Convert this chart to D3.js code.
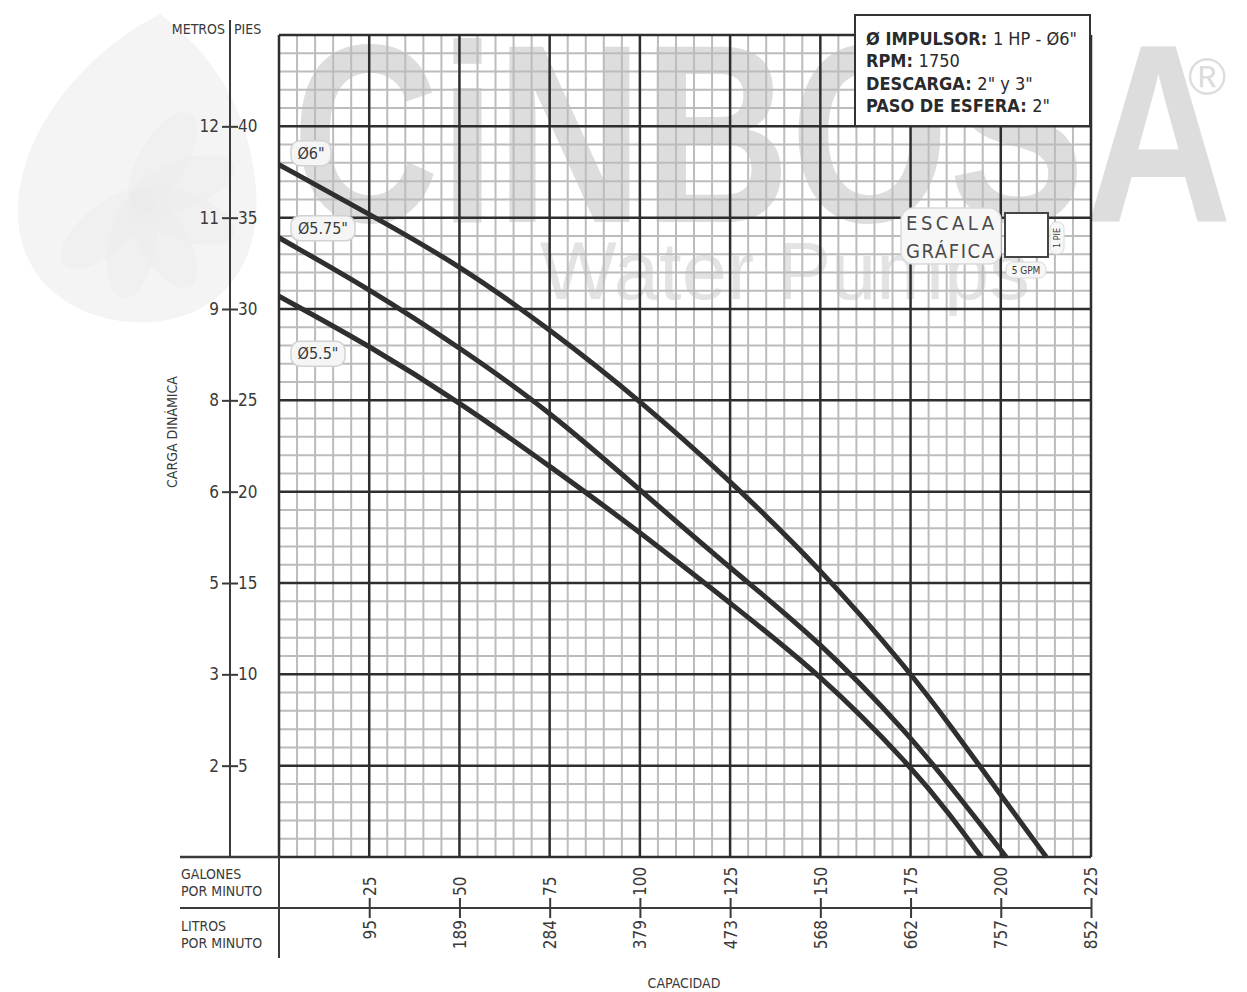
<!DOCTYPE html>
<html>
<head>
<meta charset="utf-8">
<script src="https://cdn.jsdelivr.net/npm/d3@7"></script>
<style>
    body { margin: 0; background: #fff; }
    svg { display: block; }
    .lbl { font-family: "Liberation Sans Narrow", "DejaVu Sans Condensed", "Liberation Sans", sans-serif; fill: #3a3a3a; }
</style>
</head>
<body>
<div id="chart"></div>
<script>
// bottom axis: galones por minuto and litros por minuto
var gpmTicks = [25, 50, 75, 100, 125, 150, 175, 200, 225];
var lpmLabels = ["95", "189", "284", "379", "473", "568", "662", "757", "852"];

// left axis: pies and metros
var feetTicks = [5, 10, 15, 20, 25, 30, 35, 40];
var meterLabels = ["2", "3", "5", "6", "8", "9", "11", "12"];

// impeller curves, flow in GPM and head in feet
var curveNames = ['Ø6"', 'Ø5.75"', 'Ø5.5"'];
var flow6 = [0, 25, 50, 75, 100, 125, 150, 175, 186, 200, 212.6];
var head6 = [37.9, 35.2, 32.4, 28.9, 25.0, 20.6, 15.8, 10.1, 7.2, 3.4, 0];
var flow575 = [0, 25, 50, 75, 100, 125, 150, 175, 186, 201.5];
var head575 = [33.9, 31.1, 27.9, 24.4, 20.1, 15.8, 11.8, 6.6, 3.9, 0];
var flow55 = [0, 25, 50, 75, 100, 125, 150, 175, 186, 194.6];
var head55 = [30.7, 28.0, 24.9, 21.4, 17.8, 13.9, 10.0, 5.0, 2.3, 0];

var infoLines = [
    ["Ø IMPULSOR: ", '1 HP - Ø6"'],
    ["RPM: ", "1750"],
    ["DESCARGA: ", '2" y 3"'],
    ["PASO DE ESFERA: ", '2"']
];

var W = 1247, H = 992;
var plotLeft = 279, plotRight = 1091, plotTop = 35, plotBottom = 857;

var svg = d3.select("#chart").append("svg").attr("width", W).attr("height", H);

var x = d3.scaleLinear().domain([0, 225]).range([plotLeft, plotRight]);
var y = d3.scaleLinear().domain([0, 45]).range([plotBottom, plotTop]);

// ---- watermark (logo, CiNBOSA, Water Pumps) ----
var wm = svg.append("g");
wm.append("path")
    .attr("d", "M160,14 C80,55 18,135 18,212 C18,288 85,326 150,322 C222,318 262,262 256,190 C250,112 215,55 160,14 Z")
    .attr("fill", "#f4f4f4");
[-60, -20, 20, 60, 100, 140].forEach(function (a) {
    wm.append("ellipse")
        .attr("cx", 185).attr("cy", 200).attr("rx", 55).attr("ry", 24)
        .attr("transform", "rotate(" + a + ",140,200)")
        .attr("fill", "#ececec").attr("opacity", 0.45);
});
wm.append("text")
    .attr("x", 292).attr("y", 222)
    .attr("textLength", 940).attr("lengthAdjust", "spacingAndGlyphs")
    .style("font-family", "'Liberation Sans', Arial, sans-serif")
    .style("font-size", "255px").style("font-weight", "bold")
    .attr("fill", "#dddddd")
    .text("CiNBOSA");
wm.append("text")
    .attr("x", 1188).attr("y", 95)
    .style("font-family", "'Liberation Sans', Arial, sans-serif")
    .style("font-size", "52px")
    .attr("fill", "#dddddd")
    .text("®");
wm.append("text")
    .attr("x", 540).attr("y", 299)
    .attr("textLength", 490).attr("lengthAdjust", "spacingAndGlyphs")
    .style("font-family", "'Liberation Sans', Arial, sans-serif")
    .style("font-size", "82px")
    .attr("fill", "#e3e3e3")
    .text("Water Pumps");

// ---- grid ----
var grid = svg.append("g");
var minorX = d3.range(0, 226, 5), minorY = d3.range(0, 46, 1);
grid.selectAll(".mx").data(minorX.filter(function (d) { return d % 25 !== 0; })).enter()
    .append("line")
    .attr("x1", x).attr("x2", x).attr("y1", plotTop).attr("y2", plotBottom)
    .attr("stroke", "#bcbcbc").attr("stroke-width", 2);
grid.selectAll(".my").data(minorY.filter(function (d) { return d % 5 !== 0; })).enter()
    .append("line")
    .attr("y1", y).attr("y2", y).attr("x1", plotLeft).attr("x2", plotRight)
    .attr("stroke", "#bcbcbc").attr("stroke-width", 2);
grid.selectAll(".Mx").data(d3.range(0, 226, 25)).enter()
    .append("line")
    .attr("x1", x).attr("x2", x).attr("y1", plotTop).attr("y2", plotBottom)
    .attr("stroke", "#2e2e2e").attr("stroke-width", 2.5);
grid.selectAll(".My").data(d3.range(0, 46, 5)).enter()
    .append("line")
    .attr("y1", y).attr("y2", y).attr("x1", plotLeft).attr("x2", plotRight)
    .attr("stroke", "#2e2e2e").attr("stroke-width", 2.5);

// ---- curves ----
var line = d3.line()
    .x(function (d) { return x(d[0]); })
    .y(function (d) { return y(d[1]); })
    .curve(d3.curveBasis);
var series = [d3.zip(flow6, head6), d3.zip(flow575, head575), d3.zip(flow55, head55)];
svg.append("g").selectAll("path").data(series).enter()
    .append("path")
    .attr("d", line)
    .attr("fill", "none")
    .attr("stroke", "#2f2f2f")
    .attr("stroke-width", 5)
    .attr("stroke-linecap", "butt");

// curve labels (offset from each curve start)
var labelOffsets = [-11, -9, 58];
var labelWidths = [40, 64, 54];
series.forEach(function (s, i) {
    var cy = y(s[0][1]) + labelOffsets[i];
    var g = svg.append("g");
    g.append("rect")
        .attr("x", 291).attr("y", cy - 13).attr("width", labelWidths[i]).attr("height", 25)
        .attr("rx", 9).attr("fill", "#f5f5f5").attr("stroke", "#d2d2d2").attr("stroke-width", 1.5);
    g.append("text").attr("class", "lbl")
        .attr("x", 291 + labelWidths[i] / 2).attr("y", cy + 5)
        .attr("text-anchor", "middle")
        .style("font-size", "16px")
        .text(curveNames[i]);
});

// ---- left axis: metros | pies ----
var axisX = 230;
svg.append("line").attr("x1", axisX).attr("x2", axisX).attr("y1", 20).attr("y2", plotBottom)
    .attr("stroke", "#3a3a3a").attr("stroke-width", 2);
svg.append("text").attr("class", "lbl").attr("x", axisX - 5).attr("y", 34)
    .attr("text-anchor", "end").style("font-size", "14px").text("METROS");
svg.append("text").attr("class", "lbl").attr("x", axisX + 4).attr("y", 34)
    .style("font-size", "14px").text("PIES");

var left = svg.append("g").attr("transform", "translate(" + axisX + ",0)")
    .call(d3.axisLeft(y).tickValues(feetTicks).tickSize(8).tickPadding(3)
        .tickFormat(function (d, i) { return meterLabels[i]; }));
var right = svg.append("g").attr("transform", "translate(" + axisX + ",0)")
    .call(d3.axisRight(y).tickValues(feetTicks).tickSize(8).tickPadding(0)
        .tickFormat(function (d) { return d; }));
[left, right].forEach(function (a) {
    a.select(".domain").remove();
    a.selectAll(".tick line").attr("stroke", "#3a3a3a").attr("stroke-width", 2);
    a.selectAll(".tick text").attr("class", "lbl").style("font-size", "17px");
});

svg.append("text").attr("class", "lbl")
    .attr("transform", "translate(177,432) rotate(-90)")
    .attr("text-anchor", "middle").style("font-size", "14px")
    .text("CARGA DINÁMICA");

// ---- bottom axes: galones / litros ----
var sepY = 908;
svg.append("line").attr("x1", 180).attr("x2", plotLeft).attr("y1", plotBottom).attr("y2", plotBottom)
    .attr("stroke", "#3a3a3a").attr("stroke-width", 2.5);
svg.append("line").attr("x1", 180).attr("x2", plotRight).attr("y1", sepY).attr("y2", sepY)
    .attr("stroke", "#3a3a3a").attr("stroke-width", 2);
svg.append("line").attr("x1", plotLeft).attr("x2", plotLeft).attr("y1", plotBottom).attr("y2", 958)
    .attr("stroke", "#3a3a3a").attr("stroke-width", 2);

var gal = svg.append("g").attr("transform", "translate(0," + sepY + ")")
    .call(d3.axisTop(x).tickValues(gpmTicks).tickSize(10).tickPadding(0));
var lit = svg.append("g").attr("transform", "translate(0," + sepY + ")")
    .call(d3.axisBottom(x).tickValues(gpmTicks).tickSize(10).tickPadding(0)
        .tickFormat(function (d, i) { return lpmLabels[i]; }));
[gal, lit].forEach(function (a) {
    a.select(".domain").remove();
    a.selectAll(".tick line").attr("stroke", "#3a3a3a").attr("stroke-width", 2);
});
gal.selectAll(".tick text").attr("class", "lbl").style("font-size", "17px")
    .attr("transform", "rotate(-90)").attr("x", 12).attr("y", 0).attr("dy", "0.35em")
    .attr("text-anchor", "start");
lit.selectAll(".tick text").attr("class", "lbl").style("font-size", "17px")
    .attr("transform", "rotate(-90)").attr("x", -12).attr("y", 0).attr("dy", "0.35em")
    .attr("text-anchor", "end");

[["GALONES", 879], ["POR MINUTO", 896], ["LITROS", 931], ["POR MINUTO", 948]].forEach(function (t) {
    svg.append("text").attr("class", "lbl").attr("x", 181).attr("y", t[1])
        .style("font-size", "14px").text(t[0]);
});
svg.append("text").attr("class", "lbl").attr("x", 684).attr("y", 988)
    .attr("text-anchor", "middle").style("font-size", "14px").text("CAPACIDAD");

// ---- info box ----
svg.append("rect").attr("x", 855).attr("y", 15).attr("width", 235).attr("height", 111)
    .attr("fill", "#fff").attr("stroke", "#333").attr("stroke-width", 2);
infoLines.forEach(function (l, i) {
    var t = svg.append("text").attr("class", "lbl")
        .attr("x", 866).attr("y", 45 + i * 22.3)
        .style("font-size", "18px").style("fill", "#2a2a2a");
    t.append("tspan").style("font-weight", "bold").text(l[0]);
    t.append("tspan").text(l[1]);
});

// ---- escala grafica ----
var esc = svg.append("g");
esc.append("rect").attr("x", 901).attr("y", 208).attr("width", 100).attr("height", 56).attr("rx", 12)
    .attr("fill", "#f7f7f7").attr("stroke", "#dadada").attr("stroke-width", 1.5);
esc.append("text").attr("class", "lbl").attr("x", 906).attr("y", 230)
    .attr("textLength", 88).style("font-size", "20px").style("fill", "#4a4a4a").text("ESCALA");
esc.append("text").attr("class", "lbl").attr("x", 906).attr("y", 258)
    .attr("textLength", 88).style("font-size", "20px").style("fill", "#4a4a4a").text("GRÁFICA");
esc.append("rect").attr("x", 1005).attr("y", 213).attr("width", 43).attr("height", 44)
    .attr("fill", "#fff").attr("stroke", "#444").attr("stroke-width", 2);
esc.append("rect").attr("x", 1050).attr("y", 222).attr("width", 14).attr("height", 32).attr("rx", 6)
    .attr("fill", "#f7f7f7").attr("stroke", "#dadada");
esc.append("text").attr("class", "lbl").attr("transform", "translate(1060,238) rotate(-90)")
    .attr("text-anchor", "middle").style("font-size", "9px").text("1 PIE");
esc.append("rect").attr("x", 1006).attr("y", 262).attr("width", 40).attr("height", 16).attr("rx", 7)
    .attr("fill", "#f7f7f7").attr("stroke", "#dadada");
esc.append("text").attr("class", "lbl").attr("x", 1026).attr("y", 274)
    .attr("text-anchor", "middle").style("font-size", "10px").text("5 GPM");
</script>
</body>
</html>
